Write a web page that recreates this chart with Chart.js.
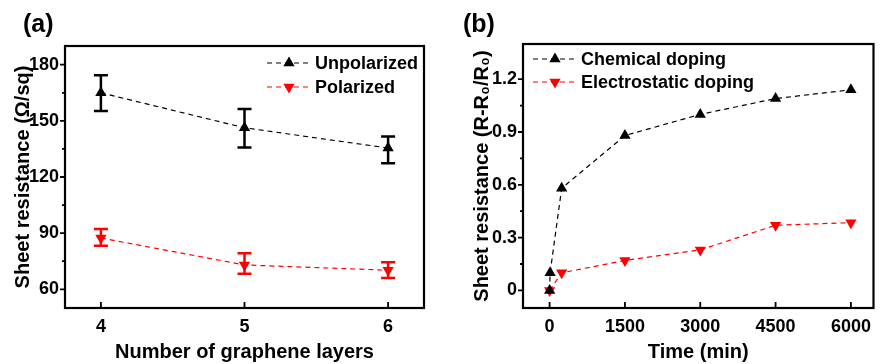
<!DOCTYPE html>
<html>
<head>
<meta charset="utf-8">
<script src="https://cdn.jsdelivr.net/npm/chart.js@4.4.1/dist/chart.umd.min.js"></script>
<style>
body{margin:0;background:#fff;width:880px;height:364px;overflow:hidden;position:relative;font-family:"Liberation Sans",Arial,sans-serif}
.panel{position:absolute;top:0;width:440px;height:364px}
.tag{position:absolute;font-weight:bold;font-size:25px;line-height:29px}
</style>
</head>
<body>
<div class="panel" style="left:0"><canvas id="chartA" width="440" height="364"></canvas></div>
<div class="panel" style="left:440px"><canvas id="chartB" width="440" height="364"></canvas></div>
<div class="tag" style="left:23px;top:9px">(a)</div>
<div class="tag" style="left:463px;top:9px">(b)</div>
<script>
// panel (a): sheet resistance vs number of layers
const layers = [4, 5, 6];
const unpolarized = [165, 146.3, 135.5];
const unpolarizedLow = [155.3, 135.8, 127.4];
const unpolarizedHigh = [174.4, 156.3, 141.7];
const polarized = [87.4, 73, 70.2];
const polarizedLow = [83.2, 68.3, 66];
const polarizedHigh = [92.2, 79.2, 74.5];
const layerTicks = [4, 5, 6];
const resistanceTicks = [60, 90, 120, 150, 180];

// panel (b): relative change vs time
const chemTime = [0, 10, 240, 1500, 3000, 4500, 6000];
const chemical = [0, 0.1, 0.58, 0.88, 1.0, 1.09, 1.14];
const elecTime = [0, 240, 1500, 3000, 4500, 6000];
const electrostatic = [0, 0.1, 0.17, 0.23, 0.37, 0.385];
const timeTicks = [0, 1500, 3000, 4500, 6000];
const ratioTicks = [0, 0.3, 0.6, 0.9, 1.2];

const RED = '#ff0000';
const BLACK = '#000000';

Chart.defaults.font.family = '"Liberation Sans", Arial, sans-serif';
Chart.defaults.font.weight = 'bold';
Chart.defaults.font.size = 18;
Chart.defaults.color = '#000';

const xy = (xs, ys) => xs.map((x, i) => ({x: x, y: ys[i]}));

// error bars, drawn under the markers
const errorBars = {
    id: 'errorBars',
    beforeDatasetsDraw(chart) {
        const ctx = chart.ctx, xs = chart.scales.x, ys = chart.scales.y;
        chart.data.datasets.forEach(ds => {
            if (!ds.errLow) return;
            ctx.save();
            ctx.strokeStyle = ds.borderColor;
            ctx.lineWidth = 2.5;
            ds.data.forEach((p, i) => {
                const x = xs.getPixelForValue(p.x);
                const y1 = ys.getPixelForValue(ds.errLow[i]);
                const y2 = ys.getPixelForValue(ds.errHigh[i]);
                ctx.beginPath();
                ctx.moveTo(x, y1); ctx.lineTo(x, y2);
                ctx.moveTo(x - 7, y1); ctx.lineTo(x + 7, y1);
                ctx.moveTo(x - 7, y2); ctx.lineTo(x + 7, y2);
                ctx.stroke();
            });
            ctx.restore();
        });
    }
};

// frame, ticks (x inward, y outward with minors) and the legend
const frame = {
    id: 'frame',
    afterDraw(chart, args, opts) {
        const ctx = chart.ctx, a = chart.chartArea;
        const xs = chart.scales.x, ys = chart.scales.y;
        ctx.save();
        ctx.strokeStyle = '#000';
        ctx.lineWidth = 2.2;
        ctx.strokeRect(a.left, a.top, a.right - a.left, a.bottom - a.top);
        ctx.lineWidth = 1.8;
        ctx.beginPath();
        xs.ticks.forEach(t => {
            const x = xs.getPixelForValue(t.value);
            ctx.moveTo(x, a.bottom); ctx.lineTo(x, a.bottom - 6);
        });
        const yt = ys.ticks.map(t => t.value);
        yt.forEach((v, i) => {
            const y = ys.getPixelForValue(v);
            ctx.moveTo(a.left, y); ctx.lineTo(a.left - 5, y);
            if (i < yt.length - 1) {
                const m = ys.getPixelForValue((v + yt[i + 1]) / 2);
                ctx.moveTo(a.left, m); ctx.lineTo(a.left - 3, m);
            }
        });
        ctx.stroke();

        // legend
        ctx.font = 'bold 18px "Liberation Sans", Arial, sans-serif';
        ctx.textBaseline = 'middle';
        chart.data.datasets.forEach((ds, i) => {
            const y = opts.legendY + i * opts.legendGap;
            const x0 = opts.legendX;
            ctx.strokeStyle = ds.borderColor;
            ctx.lineWidth = 1.2;
            ctx.setLineDash([5, 4]);
            ctx.beginPath();
            ctx.moveTo(x0, y); ctx.lineTo(x0 + 44, y);
            ctx.stroke();
            ctx.setLineDash([]);
            ctx.fillStyle = ds.borderColor;
            const r = 6.5, dir = ds.pointRotation ? -1 : 1;
            ctx.beginPath();
            ctx.moveTo(x0 + 22, y - dir * r);
            ctx.lineTo(x0 + 22 + r * 0.866, y + dir * r / 2);
            ctx.lineTo(x0 + 22 - r * 0.866, y + dir * r / 2);
            ctx.closePath();
            ctx.fill();
            ctx.fillStyle = '#000';
            ctx.fillText(ds.label, x0 + 48, y + 1);
        });
        ctx.restore();
    }
};

function series(label, pts, color, down, extra) {
    return Object.assign({
        label: label,
        data: pts,
        showLine: true,
        borderColor: color,
        backgroundColor: color,
        borderWidth: 1.2,
        borderDash: [5, 4],
        pointStyle: 'triangle',
        pointRotation: down ? 180 : 0,
        pointRadius: 6.5,
        pointBorderWidth: 0,
        pointBackgroundColor: color
    }, extra || {});
}

function axes(o) {
    return {
        x: {
            type: 'linear', min: o.xMin, max: o.xMax,
            afterBuildTicks: s => { s.ticks = o.xTicks.map(v => ({value: v})); },
            afterFit: s => { s.height = 56; },
            grid: {display: false, drawTicks: false}, border: {display: false},
            ticks: {padding: 8, callback: v => String(v)},
            title: {display: true, text: o.xTitle, font: {size: 20, weight: 'bold'}, padding: {top: 0, bottom: 0}}
        },
        y: {
            type: 'linear', min: o.yMin, max: o.yMax,
            afterBuildTicks: s => { s.ticks = o.yTicks.map(v => ({value: v})); },
            afterFit: s => { s.width = o.yWidth; },
            grid: {display: false, drawTicks: false}, border: {display: false},
            ticks: {padding: o.yPad, callback: v => String(v)},
            title: {display: true, text: o.yTitle, font: {size: 20, weight: 'bold'}, padding: {top: o.yTitlePad, bottom: 0}}
        }
    };
}

new Chart(document.getElementById('chartA'), {
    type: 'scatter',
    data: {
        datasets: [
            series('Unpolarized', xy(layers, unpolarized), BLACK, false, {errLow: unpolarizedLow, errHigh: unpolarizedHigh}),
            series('Polarized', xy(layers, polarized), RED, true, {errLow: polarizedLow, errHigh: polarizedHigh})
        ]
    },
    options: {
        responsive: false, animation: false, devicePixelRatio: 1,
        layout: {padding: {top: 46, right: 16, left: 0, bottom: 0}},
        plugins: {legend: {display: false}, tooltip: {enabled: false},
            frame: {legendX: 267, legendY: 63, legendGap: 24}},
        scales: axes({xMin: 3.75, xMax: 6.25, xTicks: layerTicks, xTitle: 'Number of graphene layers',
            yMin: 50, yMax: 190, yTicks: resistanceTicks, yTitle: 'Sheet resistance (\u03a9/sq)',
            yWidth: 65, yPad: 6, yTitlePad: 11})
    },
    plugins: [errorBars, frame]
});

new Chart(document.getElementById('chartB'), {
    type: 'scatter',
    data: {
        datasets: [
            series('Chemical doping', xy(chemTime, chemical), BLACK, false),
            series('Electrostatic doping', xy(elecTime, electrostatic), RED, true)
        ]
    },
    options: {
        responsive: false, animation: false, devicePixelRatio: 1,
        layout: {padding: {top: 44, right: 1, left: 0, bottom: 0}},
        plugins: {legend: {display: false}, tooltip: {enabled: false},
            frame: {legendX: 93, legendY: 59, legendGap: 23}},
        scales: axes({xMin: -530, xMax: 6450, xTicks: timeTicks, xTitle: 'Time (min)',
            yMin: -0.1, yMax: 1.4, yTicks: ratioTicks, yTitle: 'Sheet resistance (R-R\u2080/R\u2080)',
            yWidth: 83, yPad: 6, yTitlePad: 30})
    },
    plugins: [errorBars, frame]
});
</script>
</body>
</html>
